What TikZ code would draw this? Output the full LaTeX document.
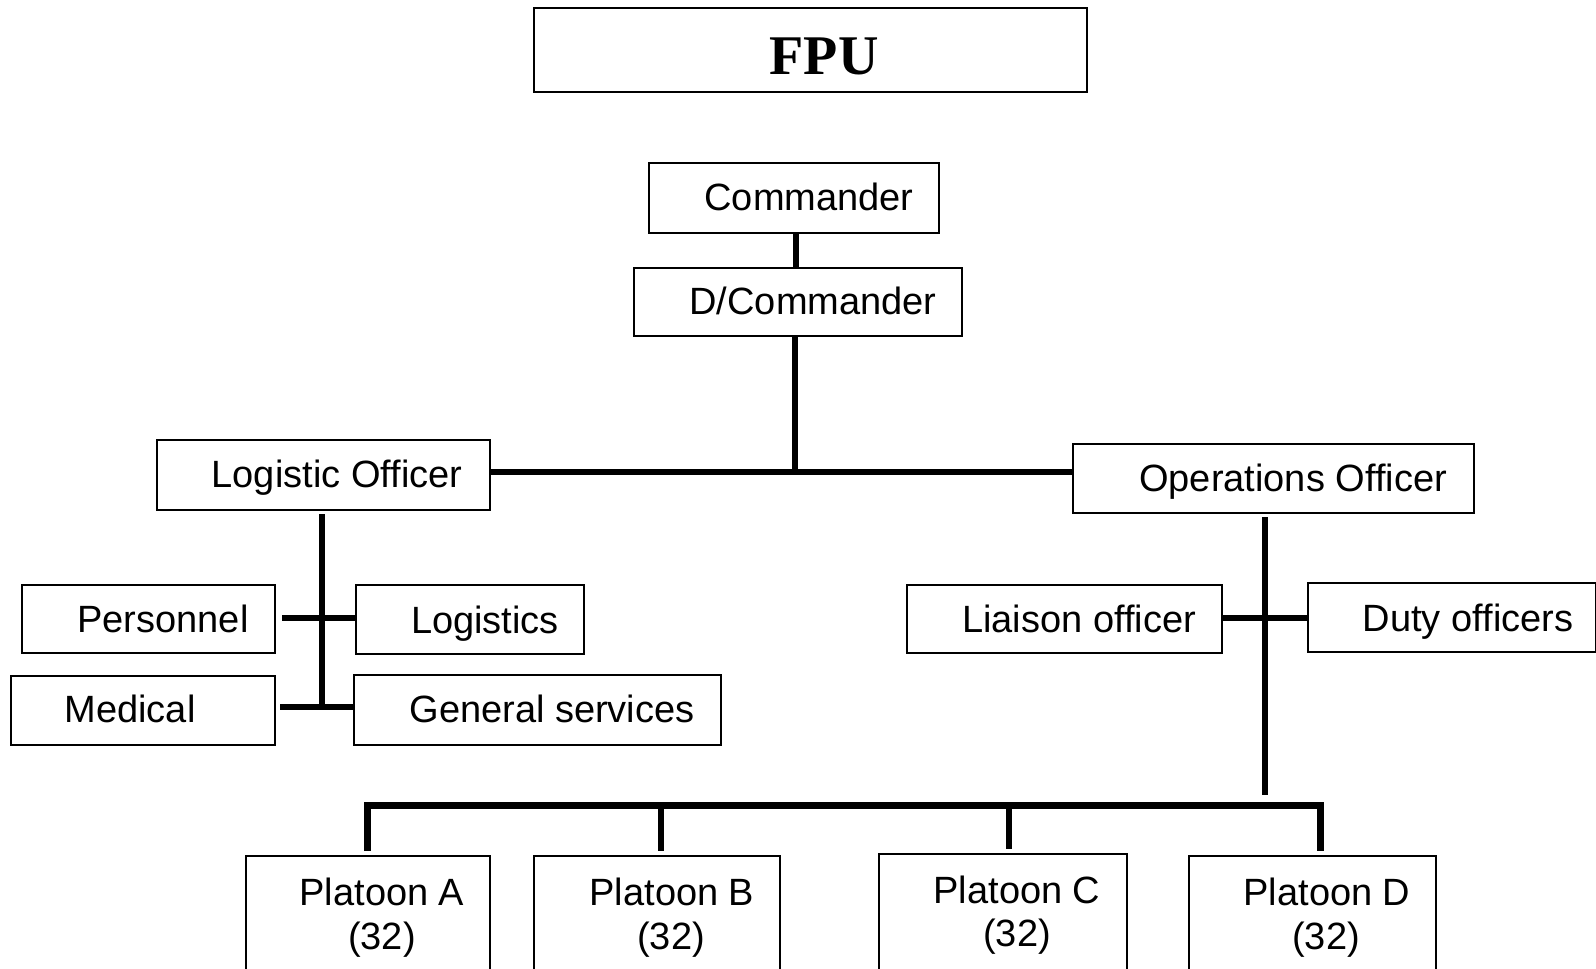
\documentclass[tikz,border=0pt]{standalone}
\usepackage{fontspec}
\setmainfont{Liberation Sans}
\newfontfamily\fpufont{Liberation Serif}
\begin{document}
\begin{tikzpicture}[x=1pt,y=-1pt,
  box/.style={draw, line width=2pt, inner sep=0pt, anchor=north west},
  txt/.style={inner sep=0pt, anchor=base, font=\fontsize{38}{44}\selectfont},
  conn/.style={line width=6pt},
  barline/.style={line width=7pt}]
\useasboundingbox (0,0) rectangle (1596,969);
\clip (0,0) rectangle (1596,969);
\fill[white] (0,0) rectangle (1596,969);
% boxes
\node[box, minimum width=553pt, minimum height=84pt] (fpu) at (533,7) {};
\node[box, minimum width=290pt, minimum height=70pt] (cmd) at (648,162) {};
\node[box, minimum width=328pt, minimum height=68pt] (dcmd) at (633,267) {};
\node[box, minimum width=333pt, minimum height=70pt] (log) at (156,439) {};
\node[box, minimum width=401pt, minimum height=69pt] (ops) at (1072,443) {};
\node[box, minimum width=253pt, minimum height=68pt] (pers) at (21,584) {};
\node[box, minimum width=228pt, minimum height=69pt] (logs) at (355,584) {};
\node[box, minimum width=264pt, minimum height=69pt] (med) at (10,675) {};
\node[box, minimum width=367pt, minimum height=70pt] (gs) at (353,674) {};
\node[box, minimum width=315pt, minimum height=68pt] (lia) at (906,584) {};
\node[box, minimum width=288pt, minimum height=69pt] (duty) at (1307,582) {};
\node[box, minimum width=244pt, minimum height=125pt] (plA) at (245,855) {};
\node[box, minimum width=246pt, minimum height=125pt] (plB) at (533,855) {};
\node[box, minimum width=248pt, minimum height=127pt] (plC) at (878,853) {};
\node[box, minimum width=247pt, minimum height=125pt] (plD) at (1188,855) {};
% texts
\node[inner sep=0pt, anchor=base, font=\fpufont\bfseries\fontsize{56}{60}\selectfont] (tfpu) at (824,74) {FPU};
\node[txt] (tcmd) at (809,210) {Commander};
\node[txt] (tdcmd) at (813,314) {D/Commander};
\node[txt] (tlog) at (337,487) {Logistic Officer};
\node[txt] (tops) at (1293,491) {Operations Officer};
\node[txt] (tpers) at (163,632) {Personnel};
\node[txt] (tlogs) at (485,633) {Logistics};
\node[txt] (tmed) at (130,722) {Medical};
\node[txt] (tgs) at (552,722) {General services};
\node[txt] (tlia) at (1079,632) {Liaison officer};
\node[txt] (tduty) at (1468,631) {Duty officers};
\node[txt] (tplA) at (382,905) {Platoon A};
\node[txt] (tnA) at (382,949) {(32)};
\node[txt] (tplB) at (672,905) {Platoon B};
\node[txt] (tnB) at (671,949) {(32)};
\node[txt] (tplC) at (1017,903) {Platoon C};
\node[txt] (tnC) at (1017,946) {(32)};
\node[txt] (tplD) at (1327,905) {Platoon D};
\node[txt] (tnD) at (1326,949) {(32)};
% junction coordinates
\coordinate (c1) at (796,0);
\coordinate (hub) at (795,472);
\coordinate (lv) at (322,709);
\coordinate (lp) at (0,618);
\coordinate (lm) at (0,707);
\coordinate (ov) at (1265,795);
\coordinate (barL) at (367,805);
\coordinate (barB) at (661,805);
\coordinate (barC) at (1009,805);
\coordinate (barR) at (1320,805);
% connectors
\draw[conn] (cmd.south -| c1) -- (dcmd.north -| c1);
\draw[conn] (dcmd.south -| hub) -- (hub);
\draw[conn] (log.east |- hub) -- (ops.west |- hub);
\draw[conn] ([yshift=-3pt]log.south -| lv) -- (lv);
\draw[conn, shorten <=6pt] (pers.east |- lp) -- (logs.west |- lp);
\draw[conn, shorten <=4pt] (med.east |- lm) -- (gs.west |- lm);
\draw[conn] ([yshift=-3pt]ops.south -| ov) -- (ov);
\draw[conn] (lia.east |- lp) -- (duty.west |- lp);
\draw[barline, shorten <=4pt, shorten >=4pt] (plA.north -| barL) -- (barL) -- (barR) -- (plD.north -| barR);
\draw[conn, shorten >=4pt] (barB) -- (plB.north -| barB);
\draw[conn, shorten >=4pt] (barC) -- (plC.north -| barC);
\end{tikzpicture}
\end{document}
